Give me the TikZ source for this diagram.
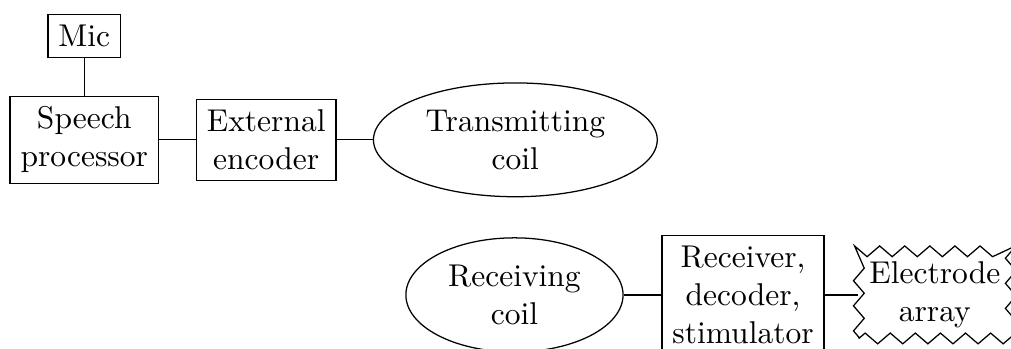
\documentclass[tikz,border=0pt]{standalone}
\usetikzlibrary{shapes.geometric,decorations.pathmorphing}
\begin{document}
\begin{tikzpicture}[%
% common options for the boxes:
block/.style = {rectangle, draw, align=center},
% common options for the coils:
coil/.style = {ellipse, draw, align=center},
% options for the electrode array:
zig/.style = {rectangle, draw, align=center, decorate,
            decoration={zigzag, segment length=2.8mm, amplitude=0.6mm}}]
\useasboundingbox (0,0) rectangle (11.28,-3.89);
\node[block] (mic) at (0.94,-0.4) {Mic};
\node[block] (speech) at (0.94,-1.56) {Speech\\processor};
\node[block] (encoder) at (2.97,-1.56) {External\\encoder};
\node[coil] (txcoil) at (5.75,-1.56) {Transmitting\\coil};
\node[coil] (rxcoil) at (5.74,-3.29) {Receiving\\coil};
\node[block] (receiver) at (8.29,-3.29) {Receiver,\\decoder,\\stimulator};
\node[zig] (electrode) at (10.43,-3.29) {Electrode\\array};
\draw (mic.south) to (speech.north);
\draw (speech.east) to (encoder.west);
\draw (encoder.east) to (txcoil.west);
\draw (rxcoil.east) to (receiver.west);
\draw (receiver.east) to (electrode.west);
\end{tikzpicture}
\end{document}
